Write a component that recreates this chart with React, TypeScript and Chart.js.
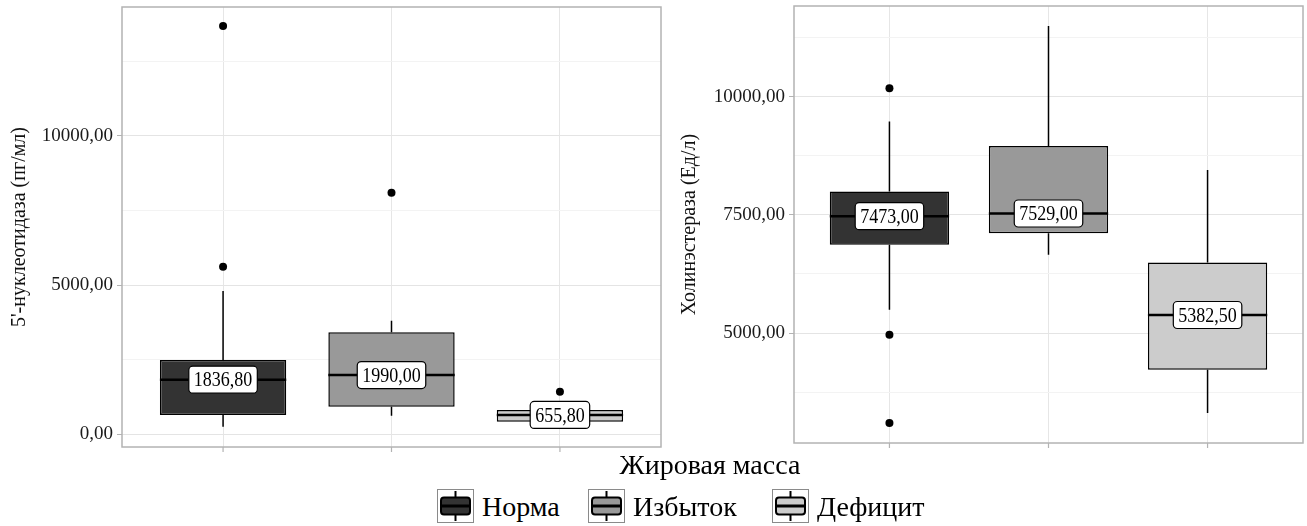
import React, { useEffect, useRef } from 'react';
import { Chart, registerables } from 'chart.js';

Chart.register(...registerables);

// ---------- data ----------
const categories = ['Норма', 'Избыток', 'Дефицит'];
const fillColors = ['#333333', '#999999', '#cccccc'];

// 5'-нуклеотидаза (пг/мл)
const nuclMedian = [1836.8, 1990.0, 655.8];
const nuclQ1 = [653, 931, 430];
const nuclQ3 = [2495, 3423, 820];
const nuclLow = [261, 630, 380];
const nuclHigh = [4806, 3811, 880];
const nuclOutliers = [[13680, 5620], [8098], [1433]];
const nuclMajorTicks = [0, 5000, 10000];
const nuclMinorTicks = [2500, 7500, 12500];

// Холинэстераза (Ед/л)
const cholMedian = [7473.0, 7529.0, 5382.5];
const cholQ1 = [6866, 7113, 4225];
const cholQ3 = [7992, 8958, 6492];
const cholLow = [5492, 6655, 3309];
const cholHigh = [9472, 11494, 8451];
const cholOutliers = [[10177, 4964, 3098], [], []];
const cholMajorTicks = [5000, 7500, 10000];
const cholMinorTicks = [3750, 6250, 8750, 11250];

const FONT = "'Liberation Serif', 'Times New Roman', serif";
const fmt = (v: number) => v.toFixed(2).replace('.', ',');

type PanelCfg = {
  median: number[];
  q1: number[];
  q3: number[];
  low: number[];
  high: number[];
  outliers: number[][];
  major: number[];
  minor: number[];
  yMin: number;
  yMax: number;
  title: string;
  yWidth: number;
  titlePad: number;
  padTop: number;
  padRight: number;
};

function makeChart(canvas: HTMLCanvasElement, p: PanelCfg) {
  const boxData = categories.map((_, i) => ({ x: i + 1, y: [p.q1[i], p.q3[i]] }));
  const outlierData: { x: number; y: number }[] = [];
  p.outliers.forEach((arr, i) => arr.forEach((v) => outlierData.push({ x: i + 1, y: v })));
  const allTicks = [...p.major, ...p.minor].sort((a, b) => a - b);
  const isMajor = (v: number) => p.major.includes(v);

  const boxPlugin = {
    id: 'boxExtras',
    beforeDatasetsDraw(chart: any) {
      const { ctx } = chart;
      const xs = chart.scales.x;
      const ys = chart.scales.y;
      ctx.save();
      ctx.strokeStyle = '#000';
      ctx.lineWidth = 1.5;
      categories.forEach((_, i) => {
        const x = xs.getPixelForValue(i + 1);
        ctx.beginPath();
        ctx.moveTo(x, ys.getPixelForValue(p.q3[i]));
        ctx.lineTo(x, ys.getPixelForValue(p.high[i]));
        ctx.moveTo(x, ys.getPixelForValue(p.q1[i]));
        ctx.lineTo(x, ys.getPixelForValue(p.low[i]));
        ctx.stroke();
      });
      ctx.restore();
    },
    afterDatasetsDraw(chart: any) {
      const { ctx } = chart;
      const ys = chart.scales.y;
      const meta = chart.getDatasetMeta(0);
      ctx.save();
      categories.forEach((_, i) => {
        const el = meta.data[i];
        const x = el.x;
        const w = el.width;
        const y = ys.getPixelForValue(p.median[i]);
        ctx.strokeStyle = '#000';
        ctx.lineWidth = 2.5;
        ctx.beginPath();
        ctx.moveTo(x - w / 2, y);
        ctx.lineTo(x + w / 2, y);
        ctx.stroke();
        // label
        ctx.font = `18px ${FONT}`;
        const txt = fmt(p.median[i]);
        const tw = ctx.measureText(txt).width;
        const bw = tw + 10;
        const bh = 27;
        ctx.beginPath();
        ctx.roundRect(x - bw / 2, y - bh / 2, bw, bh, 4);
        ctx.fillStyle = '#fff';
        ctx.fill();
        ctx.lineWidth = 1.2;
        ctx.strokeStyle = '#000';
        ctx.stroke();
        ctx.fillStyle = '#000';
        ctx.textAlign = 'center';
        ctx.textBaseline = 'middle';
        ctx.save();
        ctx.translate(x, y + 1);
        ctx.scale(1, 1.22);
        ctx.fillText(txt, 0, 0);
        ctx.restore();
      });
      ctx.restore();
    },
    afterDraw(chart: any) {
      const { ctx, chartArea: a } = chart;
      ctx.save();
      ctx.strokeStyle = '#b3b3b3';
      ctx.lineWidth = 1.5;
      ctx.strokeRect(a.left, a.top, a.right - a.left, a.bottom - a.top);
      // x-axis tick marks at category positions
      const xs = chart.scales.x;
      ctx.lineWidth = 1.2;
      ctx.beginPath();
      categories.forEach((_, i) => {
        const x = xs.getPixelForValue(i + 1);
        ctx.moveTo(x, a.bottom);
        ctx.lineTo(x, a.bottom + 5);
      });
      ctx.stroke();
      ctx.restore();
    },
  };

  return new Chart(canvas, {
    type: 'bar',
    data: {
      datasets: [
        {
          type: 'bar',
          data: boxData as any,
          backgroundColor: fillColors,
          borderColor: '#000',
          borderWidth: 1.5,
          borderSkipped: false,
          barPercentage: 0.75,
          categoryPercentage: 1,
          order: 2,
        } as any,
        {
          type: 'scatter',
          data: outlierData,
          pointRadius: 4,
          pointBackgroundColor: '#000',
          pointBorderWidth: 0,
          order: 0,
        } as any,
      ],
    },
    options: {
      responsive: false,
      animation: false,
      devicePixelRatio: 1,
      layout: { padding: { top: p.padTop, right: p.padRight, left: 0, bottom: 0 } },
      plugins: { legend: { display: false }, tooltip: { enabled: false } },
      scales: {
        x: {
          type: 'linear',
          min: 0.4,
          max: 3.6,
          offset: false,
          afterBuildTicks: (s: any) => {
            s.ticks = [1, 2, 3].map((v) => ({ value: v }));
          },
          afterFit: (s: any) => {
            s.height = 9;
            s.paddingLeft = 0;
            s.paddingRight = 0;
          },
          grid: { color: '#e6e6e6', lineWidth: 1, offset: false, drawTicks: false },
          border: { display: false },
          ticks: { display: false },
        },
        y: {
          type: 'linear',
          min: p.yMin,
          max: p.yMax,
          afterBuildTicks: (s: any) => {
            s.ticks = allTicks.map((v) => ({ value: v }));
          },
          afterFit: (s: any) => {
            s.width = p.yWidth;
            s.paddingTop = 0;
            s.paddingBottom = 0;
          },
          grid: {
            color: (c: any) => (isMajor(c.tick.value) ? '#e4e4e4' : '#f3f3f3'),
            lineWidth: 1,
            tickLength: 5,
            tickColor: (c: any) => (isMajor(c.tick.value) ? '#b3b3b3' : 'rgba(0,0,0,0)'),
          },
          border: { display: false },
          ticks: {
            autoSkip: false,
            padding: 4,
            color: '#1a1a1a',
            font: { family: FONT, size: 19 },
            callback: (v: any) => (isMajor(Number(v)) ? fmt(Number(v)) : ''),
          },
          title: {
            display: true,
            text: p.title,
            color: '#111',
            font: { family: FONT, size: 20 },
            padding: { top: p.titlePad, bottom: 0 },
          },
        },
      },
    },
    plugins: [boxPlugin],
  } as any);
}

function Panel({ cfg, left, width, height }: { cfg: PanelCfg; left: number; width: number; height: number }) {
  const ref = useRef<HTMLCanvasElement>(null);
  useEffect(() => {
    if (!ref.current) return;
    const ch = makeChart(ref.current, cfg);
    return () => ch.destroy();
  }, []);
  return (
    <canvas
      ref={ref}
      width={width}
      height={height}
      style={{ position: 'absolute', left, top: 0, width, height }}
    />
  );
}

function LegendKey({ color }: { color: string }) {
  return (
    <svg width={37} height={34} style={{ display: 'block' }}>
      <rect x={0.5} y={0.5} width={36} height={33} fill="#fff" stroke="#8a8a8a" strokeWidth={1} />
      <line x1={18.5} y1={2} x2={18.5} y2={32} stroke="#000" strokeWidth={2} />
      <rect x={4} y={8.5} width={29} height={17} rx={3} fill={color} stroke="#000" strokeWidth={2} />
      <line x1={4} y1={17} x2={33} y2={17} stroke="#000" strokeWidth={3} />
    </svg>
  );
}

const leftCfg: PanelCfg = {
  median: nuclMedian,
  q1: nuclQ1,
  q3: nuclQ3,
  low: nuclLow,
  high: nuclHigh,
  outliers: nuclOutliers,
  major: nuclMajorTicks,
  minor: nuclMinorTicks,
  yMin: -419,
  yMax: 14317,
  title: "5'-нуклеотидаза (пг/мл)",
  yWidth: 122,
  titlePad: 8,
  padTop: 7,
  padRight: 4,
};

const rightCfg: PanelCfg = {
  median: cholMedian,
  q1: cholQ1,
  q3: cholQ3,
  low: cholLow,
  high: cholHigh,
  outliers: cholOutliers,
  major: cholMajorTicks,
  minor: cholMinorTicks,
  yMin: 2676,
  yMax: 11917,
  title: 'Холинэстераза (Ед/л)',
  yWidth: 129,
  titlePad: 13,
  padTop: 6,
  padRight: 1,
};

const legendItems = [
  { label: categories[0], color: fillColors[0], keyLeft: 437, textLeft: 482 },
  { label: categories[1], color: fillColors[1], keyLeft: 588, textLeft: 633 },
  { label: categories[2], color: fillColors[2], keyLeft: 772, textLeft: 817 },
];

export default function App() {
  return (
    <div
      style={{
        position: 'fixed',
        left: 0,
        top: 0,
        width: 1307,
        height: 526,
        background: '#fff',
        overflow: 'hidden',
        fontFamily: FONT,
        color: '#000',
      }}
    >
      <Panel cfg={leftCfg} left={0} width={665} height={456} />
      <Panel cfg={rightCfg} left={665} width={642} height={452} />
      <div
        style={{
          position: 'absolute',
          left: 560,
          width: 300,
          top: 449,
          textAlign: 'center',
          fontSize: 28,
          lineHeight: '31px',
          whiteSpace: 'nowrap',
        }}
      >
        Жировая масса
      </div>
      {legendItems.map((it) => (
        <React.Fragment key={it.label}>
          <div style={{ position: 'absolute', left: it.keyLeft, top: 489 }}>
            <LegendKey color={it.color} />
          </div>
          <div
            style={{
              position: 'absolute',
              left: it.textLeft,
              top: 491,
              fontSize: 28,
              lineHeight: '31px',
              whiteSpace: 'nowrap',
            }}
          >
            {it.label}
          </div>
        </React.Fragment>
      ))}
    </div>
  );
}
